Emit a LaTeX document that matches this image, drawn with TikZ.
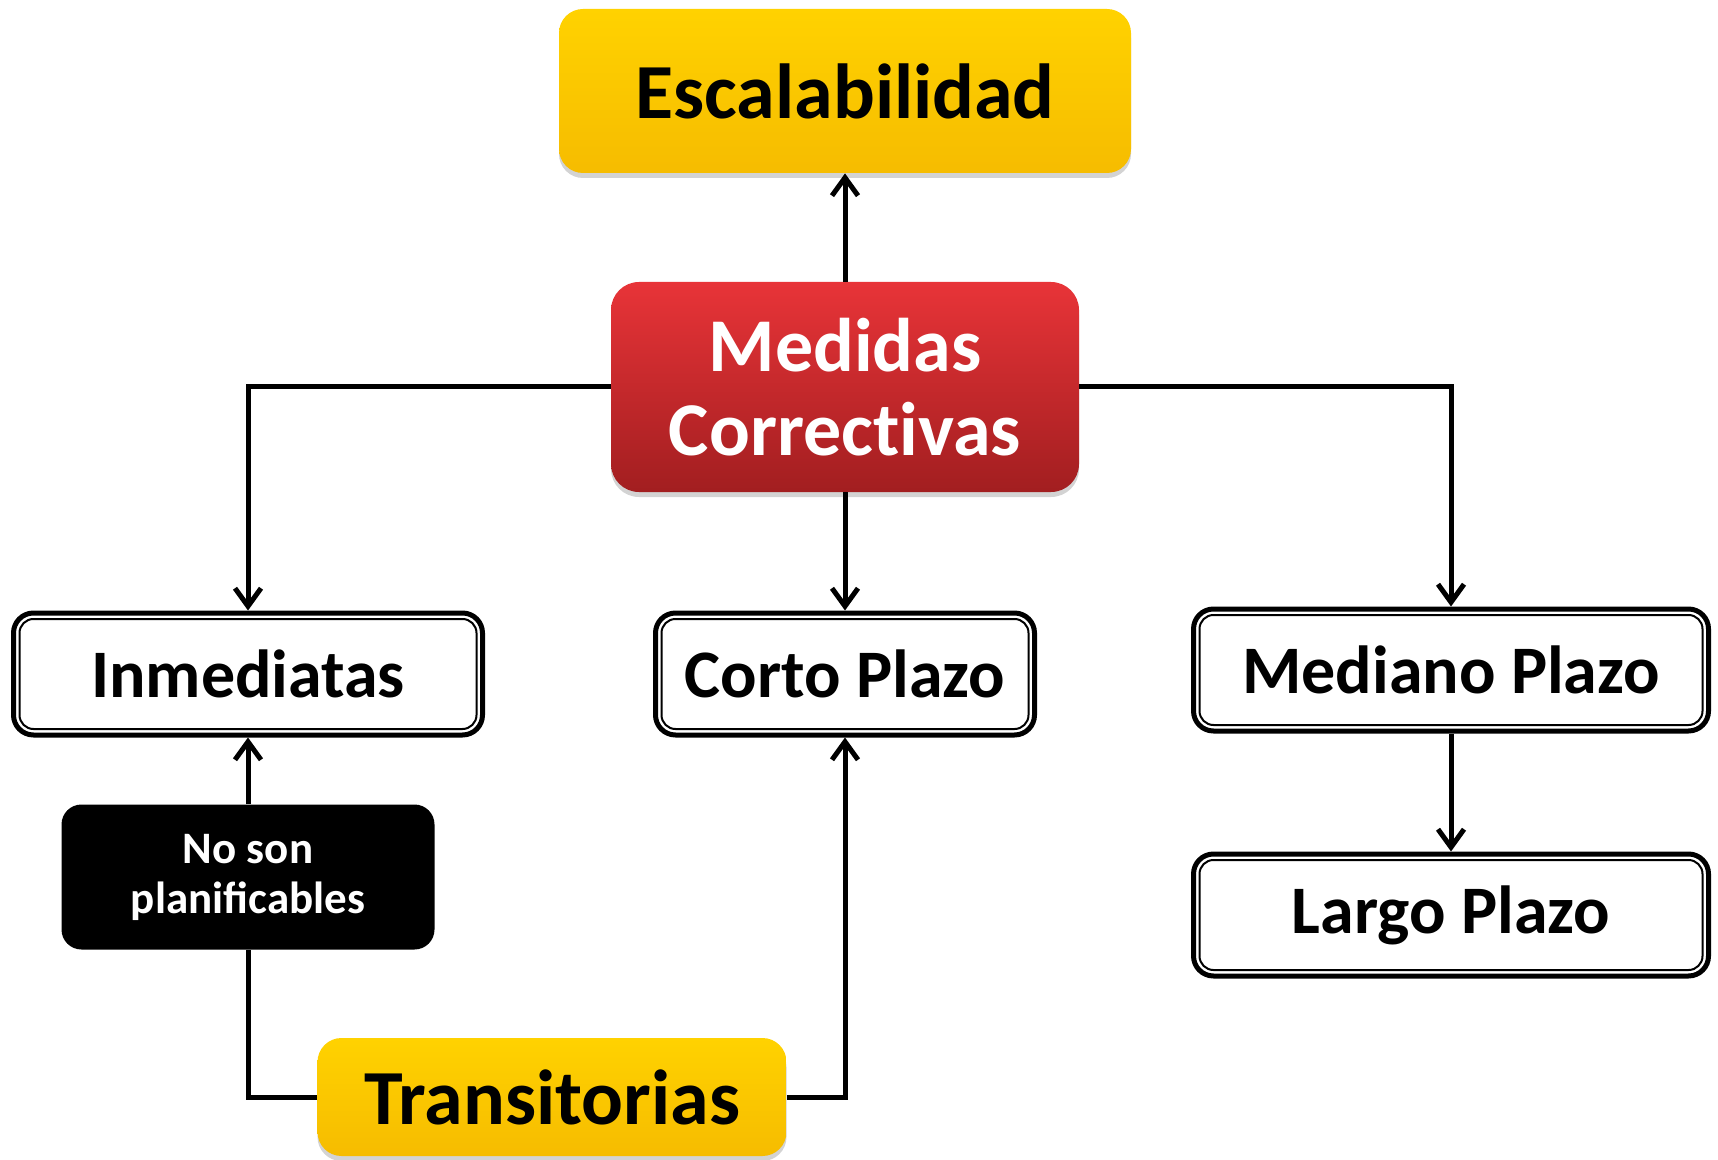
\documentclass[tikz,border=0pt]{standalone}
\usepackage{fontspec}
\setmainfont{Carlito}
\newfontfamily\noligfont{Carlito}[Ligatures=NoCommon]
\usetikzlibrary{arrows.meta,shadows}

\definecolor{goldtop}{RGB}{255,210,0}
\definecolor{goldbot}{RGB}{246,188,0}
\definecolor{redtop}{RGB}{232,52,56}
\definecolor{redbot}{RGB}{162,30,32}

\tikzset{
  goldbox/.style={rounded corners=12pt, top color=goldtop, bottom color=goldbot,
    drop shadow={shadow xshift=0pt, shadow yshift=-2.5pt, opacity=0.35},
    font=\bfseries\fontsize{39}{44}\selectfont, text=black, inner sep=0pt},
  redbox/.style={rounded corners=14pt, top color=redtop, bottom color=redbot,
    drop shadow={shadow xshift=0pt, shadow yshift=-2.5pt, opacity=0.35},
    font=\noligfont\bfseries\fontsize{38}{42}\selectfont, text=white, align=center, inner sep=0pt},
  whitebox/.style={rounded corners=10pt, draw=black, line width=2.5pt, fill=white,
    minimum height=61pt, inner sep=0pt,
    font=\bfseries\fontsize{34}{40}\selectfont,
    path picture={\draw[line width=1pt, rounded corners=7pt]
      ([shift={(3pt,-3pt)}]path picture bounding box.north west) rectangle
      ([shift={(-3pt,3pt)}]path picture bounding box.south east);}},
  blackbox/.style={rounded corners=10pt, fill=black, text=white, align=center,
    font=\bfseries\fontsize{22.5}{25}\selectfont, inner sep=0pt},
  conn/.style={line width=2.5pt, -{Straight Barb[length=9pt,width=13pt,line width=2.5pt]}},
  link/.style={line width=2.5pt}
}

\begin{document}
\begin{tikzpicture}[x=0.5pt,y=0.5pt,yscale=-1,xscale=1]
\useasboundingbox (0,0) rectangle (1718,1160);

% top and centre
\node [goldbox, minimum width=286pt, minimum height=82pt] (esc) at (845,91) {Escalabilidad};
\node [redbox, minimum width=234pt, minimum height=105pt] (med) at (845,387) {Medidas\\Correctivas};

% the three terms
\node [whitebox, minimum width=234.5pt] (inm) at (248,674) {Inmediatas};
\node [whitebox, minimum width=189.5pt] (corto) at (845,674) {Corto Plazo};
\node [whitebox, minimum width=257.5pt] (mediano) at (1451,670) {Mediano Plazo};
\node [whitebox, minimum width=257.5pt] (largo) at (1451,915) {Largo Plazo};

% bottom left
\node [blackbox, minimum width=186.5pt, minimum height=72.5pt] (noson) at (248,877) {No son\\planificables};
\node [goldbox, minimum width=234.5pt, minimum height=59pt] (trans) at (552,1097) {Transitorias};

% connectors
\draw [conn] (med.north) -- (esc.south);
\draw [conn] (med.west) -| (inm.north);
\draw [conn] (med.south) -- (corto.north);
\draw [conn] (med.east) -| (mediano.north);
\draw [conn] (mediano.south) -- (largo.north);
\draw [conn] (noson.north) -- (inm.south);
\draw [link] (trans.west) -| (noson.south);
\draw [conn] (trans.east) -| (corto.south);

\end{tikzpicture}
\end{document}
